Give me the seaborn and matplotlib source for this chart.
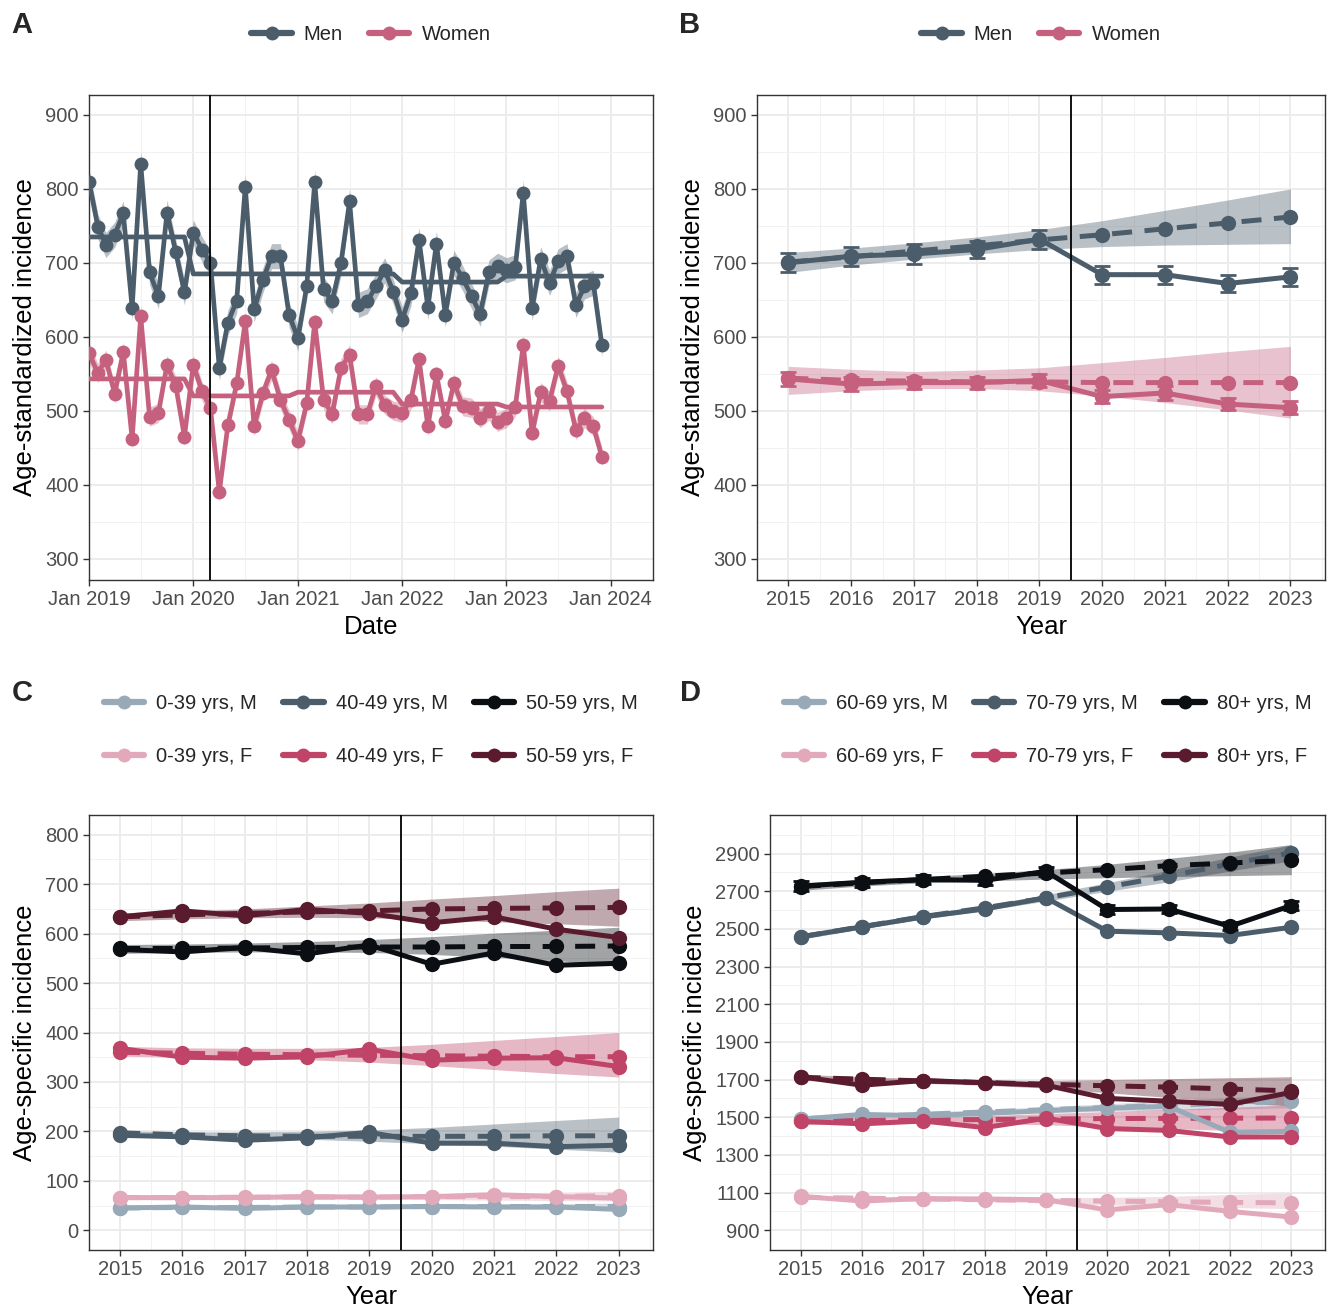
import numpy as np
import pandas as pd
import matplotlib
matplotlib.use("Agg")
import matplotlib.pyplot as plt
from matplotlib.lines import Line2D
import seaborn as sns

# ---------------- data ----------------
# Panel A: monthly age-standardized incidence, Jan 2019 - Dec 2023
months = pd.date_range("2019-01-01", "2023-12-01", freq="MS")
men_monthly = [810, 749, 724, 738, 767, 639, 834, 687, 655, 768, 714, 660,
               741, 718, 700, 558, 619, 649, 803, 637, 677, 709, 709, 630,
               598, 668, 809, 664, 648, 700, 783, 643, 648, 668, 690, 661,
               623, 659, 731, 640, 726, 630, 700, 679, 655, 631, 687, 696,
               690, 694, 795, 639, 705, 673, 702, 709, 643, 668, 673, 589]
women_monthly = [578, 551, 569, 523, 580, 462, 628, 492, 497, 562, 533, 465,
                 562, 526, 504, 390, 480, 537, 621, 479, 524, 555, 515, 488,
                 459, 510, 620, 515, 495, 558, 576, 495, 495, 533, 508, 500,
                 497, 515, 570, 479, 549, 486, 537, 506, 504, 490, 500, 485,
                 490, 505, 589, 470, 525, 513, 561, 526, 474, 490, 479, 438]
men_band = 17
women_band = 13
men_fit = [735, 685, 685, 674, 682]
women_fit = [543, 520, 525, 509, 505]

# Panel B: yearly age-standardized incidence
years = [2015, 2016, 2017, 2018, 2019, 2020, 2021, 2022, 2023]
b_groups = ["Men", "Women"]
b_obs = [[700, 709, 712, 718, 732, 684, 684, 672, 681],
         [543, 536, 538, 538, 541, 519, 524, 509, 504]]
b_err = [[13, 13, 13, 12, 13, 12, 12, 12, 12],
         [9, 9, 8, 8, 9, 9, 9, 8, 9]]
b_pred = [[701, 708, 716, 723, 731, 738, 746, 754, 762],
          [544, 541, 540, 539, 539, 538, 538, 538, 538]]
b_lo = [[687, 697, 705, 712, 718, 722, 724, 725, 726],
        [522, 527, 530, 530, 527, 520, 511, 501, 490]]
b_hi = [[714, 720, 727, 735, 745, 757, 771, 785, 800],
        [560, 556, 553, 555, 558, 565, 572, 580, 587]]

# Panel C: age-specific incidence, younger groups
c_groups = ["0-39 yrs, M", "0-39 yrs, F", "40-49 yrs, M", "40-49 yrs, F",
            "50-59 yrs, M", "50-59 yrs, F"]
c_obs = [[45, 47, 44, 47, 47, 48, 47, 47, 42],
         [66, 66, 66, 68, 67, 68, 72, 68, 65],
         [192, 189, 182, 187, 198, 176, 176, 169, 172],
         [368, 350, 348, 351, 366, 344, 348, 349, 331],
         [568, 563, 572, 559, 577, 538, 561, 536, 540],
         [634, 646, 636, 649, 641, 622, 634, 609, 592]]
c_pred = [[45, 46, 46, 47, 47, 48, 48, 48, 48],
          [66, 66, 67, 67, 67, 68, 68, 68, 70],
          [197, 193, 191, 190, 190, 190, 190, 191, 191],
          [360, 358, 356, 355, 354, 353, 352, 351, 351],
          [570, 570, 571, 572, 573, 573, 574, 574, 575],
          [634, 638, 641, 644, 646, 650, 651, 652, 653]]
c_lo = [[42, 43, 43, 44, 44, 44, 43, 42, 41],
        [62, 62, 63, 63, 63, 62, 61, 60, 59],
        [188, 187, 186, 184, 180, 175, 170, 164, 158],
        [352, 350, 348, 345, 340, 333, 325, 317, 310],
        [560, 562, 563, 563, 562, 558, 552, 545, 538],
        [626, 630, 632, 633, 632, 628, 624, 620, 615]]
c_hi = [[48, 49, 49, 50, 50, 52, 53, 54, 55],
        [70, 70, 71, 71, 71, 74, 75, 77, 79],
        [201, 199, 199, 200, 203, 208, 215, 222, 229],
        [372, 369, 368, 368, 370, 376, 384, 392, 400],
        [578, 579, 581, 584, 588, 594, 601, 607, 613],
        [642, 646, 650, 656, 662, 670, 677, 685, 692]]

# Panel D: age-specific incidence, older groups
d_groups = ["60-69 yrs, M", "60-69 yrs, F", "70-79 yrs, M", "70-79 yrs, F",
            "80+ yrs, M", "80+ yrs, F"]
d_obs = [[1490, 1515, 1508, 1520, 1535, 1548, 1558, 1420, 1425],
         [1080, 1055, 1068, 1066, 1062, 1008, 1036, 1000, 970],
         [2458, 2511, 2564, 2606, 2665, 2488, 2479, 2465, 2509],
         [1478, 1465, 1480, 1445, 1495, 1440, 1430, 1395, 1395],
         [2727, 2748, 2762, 2758, 2806, 2603, 2606, 2514, 2624],
         [1715, 1670, 1695, 1683, 1670, 1600, 1585, 1568, 1632]]
d_err = [[25, 25, 25, 25, 25, 22, 22, 22, 22]]
d_pred = [[1492, 1504, 1516, 1528, 1540, 1552, 1563, 1574, 1585],
          [1075, 1070, 1066, 1062, 1058, 1055, 1051, 1048, 1045],
          [2458, 2512, 2566, 2612, 2665, 2723, 2780, 2845, 2904],
          [1480, 1482, 1485, 1488, 1490, 1493, 1494, 1495, 1496],
          [2725, 2745, 2762, 2780, 2797, 2815, 2836, 2850, 2865],
          [1712, 1702, 1693, 1684, 1675, 1667, 1660, 1650, 1640]]
d_lo = [[1482, 1494, 1505, 1515, 1524, 1532, 1538, 1544, 1550],
        [1065, 1062, 1058, 1052, 1045, 1035, 1027, 1020, 1015],
        [2445, 2500, 2553, 2598, 2648, 2700, 2750, 2808, 2862],
        [1460, 1465, 1468, 1466, 1460, 1450, 1440, 1430, 1420],
        [2705, 2728, 2745, 2755, 2765, 2772, 2778, 2783, 2788],
        [1695, 1688, 1680, 1670, 1655, 1630, 1605, 1580, 1560]]
d_hi = [[1502, 1514, 1527, 1541, 1556, 1572, 1588, 1604, 1620],
        [1085, 1080, 1076, 1073, 1072, 1075, 1080, 1090, 1098],
        [2471, 2524, 2579, 2626, 2682, 2746, 2810, 2882, 2946],
        [1500, 1498, 1500, 1508, 1520, 1530, 1542, 1553, 1565],
        [2745, 2762, 2778, 2795, 2815, 2843, 2875, 2908, 2948],
        [1728, 1715, 1705, 1698, 1695, 1700, 1705, 1710, 1715]]

# ---------------- style ----------------
men_col = "#4B5D6B"
women_col = "#C5617F"
age_cols = ["#98AAB8", "#E2A9BB", "#4B5D6B", "#BF4467", "#0B0F14", "#5B1B2E"]
ribbon_alpha = 0.38
dash = (0, (4, 2.5))

sns.set_theme(style="white")
plt.rcParams["font.family"] = ["Liberation Sans", "DejaVu Sans"]

fig = plt.figure(figsize=(13.3, 13.07), dpi=100)
W, H = 1330, 1307


def make_ax(l, t, r, b):
    return fig.add_axes([l / W, 1 - b / H, (r - l) / W, (b - t) / H])


axA = make_ax(89, 95, 653, 580)
axB = make_ax(757, 95, 1325, 580)
axC = make_ax(89, 815, 653, 1250)
axD = make_ax(770, 815, 1325, 1250)


def style_axis(ax, xlabel, ylabel):
    for s in ax.spines.values():
        s.set_color("#333333")
        s.set_linewidth(1.0)
    ax.grid(which="major", color="#EBEBEB", linewidth=1.3, zorder=0)
    ax.grid(which="minor", color="#F2F2F2", linewidth=0.7, zorder=0)
    ax.set_axisbelow(True)
    ax.tick_params(which="major", axis="both", direction="out", length=4,
                   width=1, color="#333333", labelsize=14.5,
                   labelcolor="#4D4D4D", bottom=True, left=True)
    ax.tick_params(which="minor", length=0)
    ax.set_xlabel(xlabel, fontsize=18.5, color="black", labelpad=4)
    ax.set_ylabel(ylabel, fontsize=18.5, color="black", labelpad=6)


def add_legend(ax, labels, colors, y, ncol):
    handles = [Line2D([0], [0], color=c, lw=4.5, marker="o", markersize=10,
                      markeredgewidth=0) for c in colors]
    ax.legend(handles, labels, loc="center", bbox_to_anchor=(0.5, y),
              ncol=ncol, frameon=False, fontsize=14.5, handlelength=2.0,
              handletextpad=0.6, columnspacing=1.3, labelspacing=1.7,
              numpoints=1)


def long_frame(groups, rows):
    return pd.DataFrame({
        "Year": np.tile(years, len(groups)),
        "value": np.ravel(rows),
        "group": np.repeat(groups, len(years)),
    })


def year_panel(ax, groups, colors, obs, pred, lo, hi, err=None, err_rows=()):
    pal = dict(zip(groups, colors))
    for c, l, h in zip(colors, lo, hi):
        ax.fill_between(years, l, h, color=c, alpha=ribbon_alpha, lw=0,
                        zorder=1)
    sns.lineplot(data=long_frame(groups, pred), x="Year", y="value",
                 hue="group", palette=pal, marker="o", markersize=11,
                 markeredgewidth=0, linewidth=3.6, linestyle=dash,
                 errorbar=None, legend=False, ax=ax, zorder=2)
    if err is not None:
        for i, e in zip(err_rows, err):
            ax.errorbar(years, obs[i], yerr=e, fmt="none", ecolor=colors[i],
                        elinewidth=2, capsize=6, capthick=2, zorder=3)
    sns.lineplot(data=long_frame(groups, obs), x="Year", y="value",
                 hue="group", palette=pal, marker="o", markersize=11,
                 markeredgewidth=0, linewidth=3.6, errorbar=None,
                 legend=False, ax=ax, zorder=4)
    ax.axvline(2019.5, color="black", lw=1.3, zorder=5)
    ax.set_xticks(years)
    ax.set_xticks(np.arange(2014.5, 2024, 1.0), minor=True)
    ax.set_xlim(2014.5, 2023.55)


# ---------------- Panel A ----------------
dfA = pd.DataFrame({
    "Date": np.tile(months, 2),
    "value": men_monthly + women_monthly,
    "sex": ["Men"] * 60 + ["Women"] * 60,
})
fitA = pd.DataFrame({
    "Date": np.tile(months, 2),
    "value": np.concatenate([np.repeat(men_fit, 12), np.repeat(women_fit, 12)]),
    "sex": ["Men"] * 60 + ["Women"] * 60,
})
palA = {"Men": men_col, "Women": women_col}
axA.fill_between(months, np.array(men_monthly) - men_band,
                 np.array(men_monthly) + men_band, color=men_col,
                 alpha=ribbon_alpha, lw=0, zorder=1)
axA.fill_between(months, np.array(women_monthly) - women_band,
                 np.array(women_monthly) + women_band, color=women_col,
                 alpha=ribbon_alpha, lw=0, zorder=1)
sns.lineplot(data=dfA, x="Date", y="value", hue="sex", palette=palA,
             marker="o", markersize=10, markeredgewidth=0, linewidth=3.4,
             errorbar=None, legend=False, ax=axA, zorder=3)
sns.lineplot(data=fitA, x="Date", y="value", hue="sex", palette=palA,
             linewidth=3.4, errorbar=None, legend=False, ax=axA, zorder=4)
axA.axvline(pd.Timestamp("2020-03-01"), color="black", lw=1.3, zorder=5)
jan_ticks = pd.date_range("2019-01-01", "2024-01-01", freq="YS")
axA.set_xticks(jan_ticks)
axA.set_xticklabels([d.strftime("Jan %Y") for d in jan_ticks])
axA.set_xticks(pd.date_range("2019-07-01", "2023-07-01", freq="12MS"),
               minor=True)
axA.set_yticks(range(300, 901, 100))
axA.set_yticks(range(350, 901, 100), minor=True)
axA.set_xlim(pd.Timestamp("2019-01-01"), pd.Timestamp("2024-05-28"))
axA.set_ylim(271, 927)
style_axis(axA, "Date", "Age-standardized incidence")
add_legend(axA, b_groups, [men_col, women_col], 1.124, 2)

# ---------------- Panel B ----------------
year_panel(axB, b_groups, [men_col, women_col], b_obs, b_pred, b_lo, b_hi,
           err=b_err, err_rows=(0, 1))
axB.set_yticks(range(300, 901, 100))
axB.set_yticks(range(350, 901, 100), minor=True)
axB.set_ylim(271, 927)
style_axis(axB, "Year", "Age-standardized incidence")
add_legend(axB, b_groups, [men_col, women_col], 1.124, 2)

# ---------------- Panel C ----------------
year_panel(axC, c_groups, age_cols, c_obs, c_pred, c_lo, c_hi)
axC.set_yticks(range(0, 801, 100))
axC.set_yticks(range(50, 801, 100), minor=True)
axC.set_ylim(-40, 840)
style_axis(axC, "Year", "Age-specific incidence")
add_legend(axC, c_groups, age_cols, 1.195, 3)

# ---------------- Panel D ----------------
year_panel(axD, d_groups, age_cols, d_obs, d_pred, d_lo, d_hi,
           err=d_err, err_rows=(4,))
axD.set_yticks(range(900, 2901, 200))
axD.set_yticks(range(1000, 3001, 200), minor=True)
axD.set_ylim(795, 3105)
style_axis(axD, "Year", "Age-specific incidence")
add_legend(axD, d_groups, age_cols, 1.195, 3)

# panel tags
for tag, x, y in [("A", 22, 25), ("B", 690, 25), ("C", 22, 693), ("D", 690, 693)]:
    fig.text(x / W, 1 - y / H, tag, fontsize=21, fontweight="bold",
             ha="center", va="center")

fig.savefig("out.png", dpi=100)
